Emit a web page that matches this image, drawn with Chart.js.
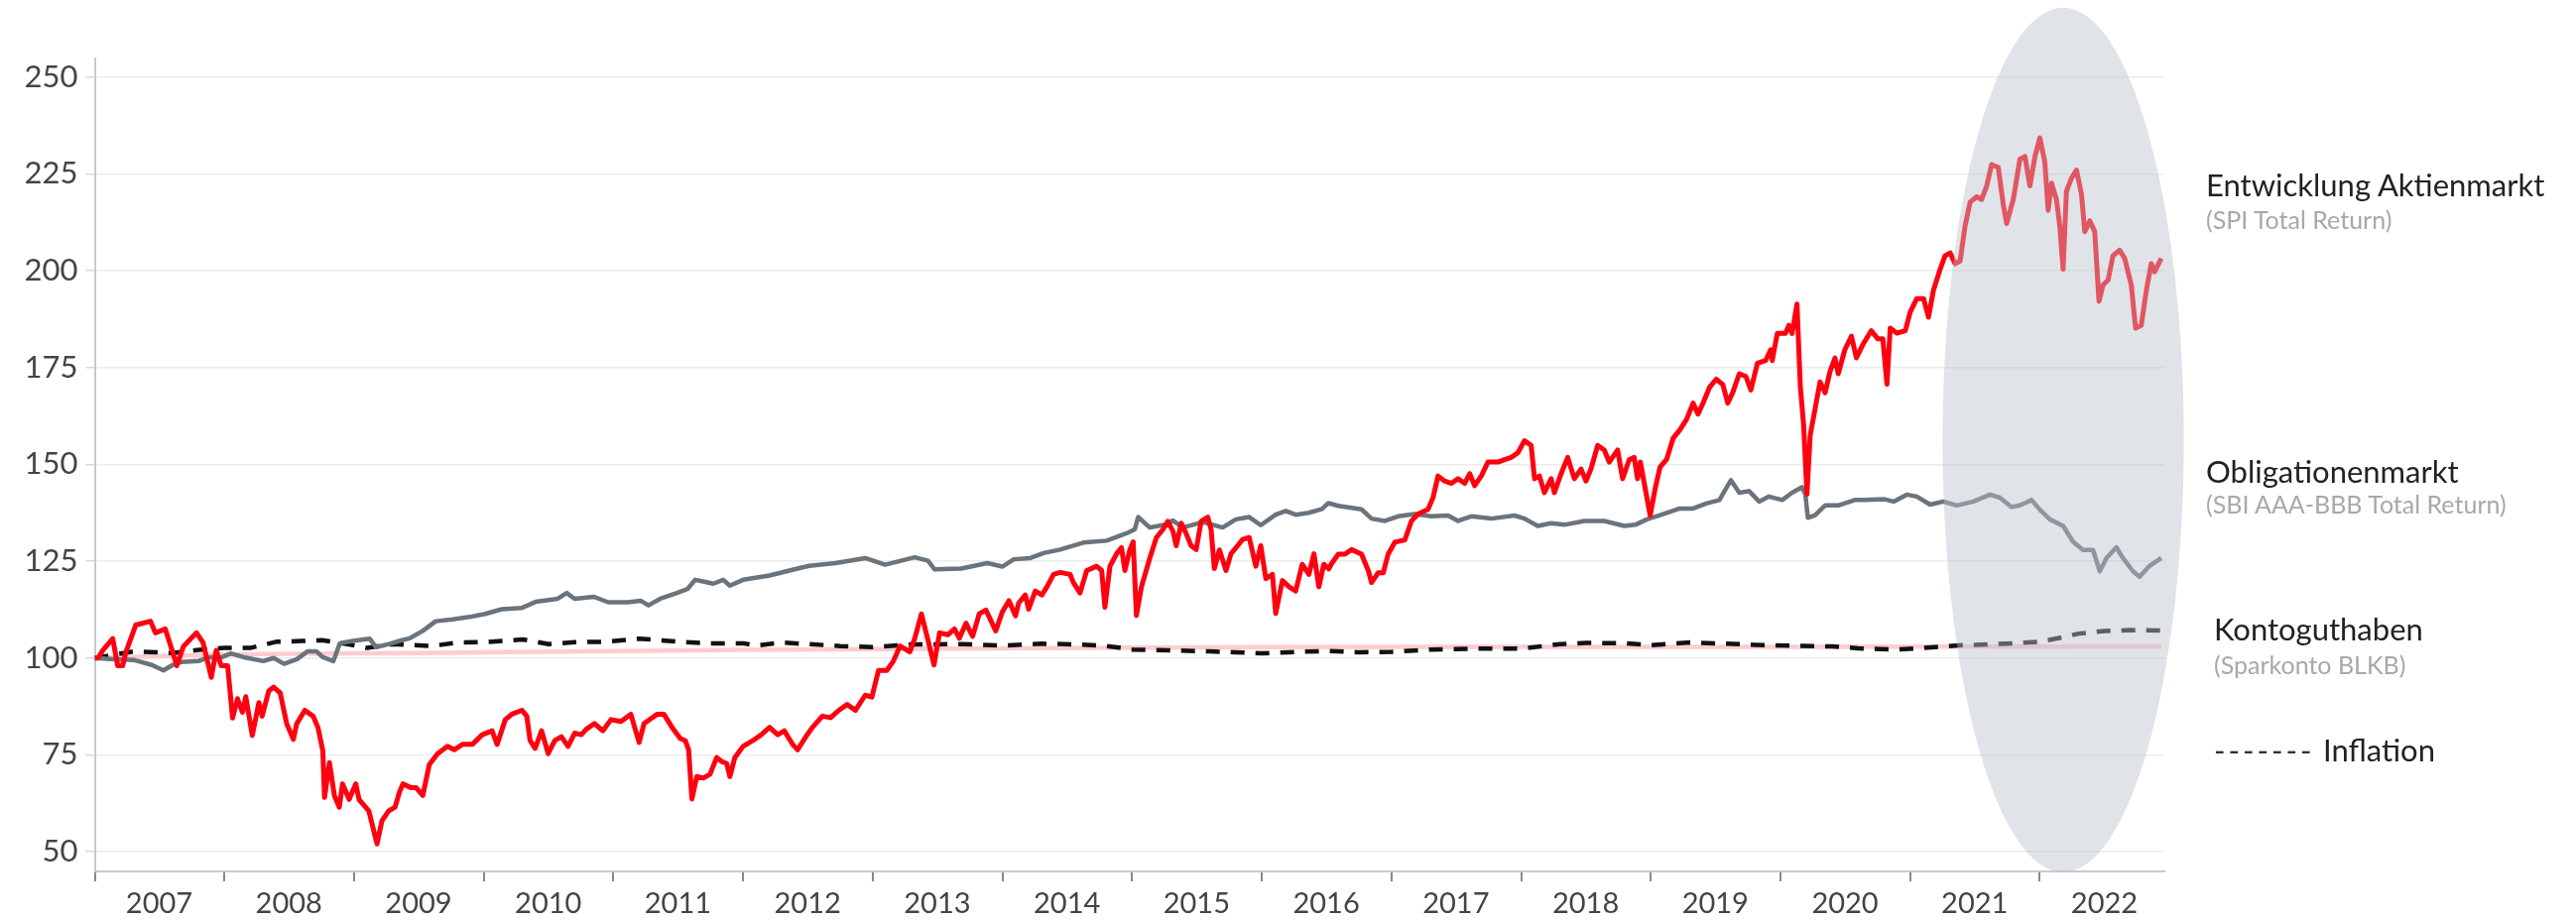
<!DOCTYPE html>
<html>
<head>
<meta charset="utf-8">
<script src="https://cdn.jsdelivr.net/npm/chart.js@4/dist/chart.umd.min.js"></script>
<style>
  body { margin: 0; background: #fff; font-family: Lato, "Open Sans", sans-serif; }
  #wrap { position: relative; width: 2597px; height: 928px; }
  .lbl { position: absolute; white-space: nowrap; transform: translateY(-50%); line-height: 1; }
  .main { font-size: 31px; color: #222; }
  .sub { font-size: 25px; color: #a8a8a8; }
</style>
</head>
<body>
<div id="wrap">
  <canvas id="myChart" width="2597" height="928"></canvas>
  <div class="lbl main" style="left:2224px;top:186px">Entwicklung Aktienmarkt</div>
  <div class="lbl sub" style="left:2224px;top:221px">(SPI Total Return)</div>
  <div class="lbl main" style="left:2224px;top:475px">Obligationenmarkt</div>
  <div class="lbl sub" style="left:2224px;top:508px">(SBI AAA-BBB Total Return)</div>
  <div class="lbl main" style="left:2232px;top:634px">Kontoguthaben</div>
  <div class="lbl sub" style="left:2232px;top:670px">(Sparkonto BLKB)</div>
  <div class="lbl main" style="left:2232px;top:756px;color:#333;letter-spacing:3px">-------</div>
  <div class="lbl main" style="left:2342px;top:756px">Inflation</div>
</div>
<script>
// x = Jahr als Dezimalzahl, Start 2007 = 100
const yearTicks = [2007, 2008, 2009, 2010, 2011, 2012, 2013, 2014, 2015, 2016, 2017, 2018, 2019, 2020, 2021, 2022];
const valueTicks = [50, 75, 100, 125, 150, 175, 200, 225, 250];

const stockYears = [
  2007.0, 2007.025, 2007.063, 2007.139, 2007.177, 2007.215, 2007.24, 2007.316, 2007.43, 2007.468,
  2007.544, 2007.582, 2007.633, 2007.684, 2007.785, 2007.835, 2007.899, 2007.937, 2007.975, 2008.025,
  2008.063, 2008.101, 2008.139, 2008.165, 2008.215, 2008.266, 2008.291, 2008.342, 2008.38, 2008.43,
  2008.481, 2008.532, 2008.557, 2008.62, 2008.684, 2008.722, 2008.759, 2008.772, 2008.81, 2008.848,
  2008.886, 2008.911, 2008.962, 2009.013, 2009.038, 2009.114, 2009.177, 2009.215, 2009.266, 2009.316,
  2009.351, 2009.377, 2009.44, 2009.479, 2009.53, 2009.58, 2009.644, 2009.72, 2009.772, 2009.835,
  2009.912, 2009.988, 2010.064, 2010.103, 2010.166, 2010.217, 2010.294, 2010.332, 2010.357, 2010.396,
  2010.446, 2010.497, 2010.548, 2010.599, 2010.65, 2010.701, 2010.752, 2010.79, 2010.854, 2010.918,
  2010.981, 2011.058, 2011.134, 2011.198, 2011.236, 2011.338, 2011.389, 2011.452, 2011.516, 2011.554,
  2011.58, 2011.605, 2011.643, 2011.694, 2011.745, 2011.796, 2011.834, 2011.873, 2011.898, 2011.936,
  2012.0, 2012.076, 2012.14, 2012.204, 2012.267, 2012.318, 2012.382, 2012.42, 2012.484, 2012.535,
  2012.611, 2012.675, 2012.738, 2012.802, 2012.866, 2012.942, 2012.993, 2013.044, 2013.108, 2013.159,
  2013.21, 2013.286, 2013.324, 2013.375, 2013.426, 2013.472, 2013.515, 2013.579, 2013.63, 2013.668,
  2013.719, 2013.77, 2013.821, 2013.872, 2013.948, 2013.999, 2014.05, 2014.101, 2014.125, 2014.176,
  2014.202, 2014.253, 2014.304, 2014.343, 2014.394, 2014.445, 2014.522, 2014.547, 2014.598, 2014.65,
  2014.726, 2014.765, 2014.79, 2014.829, 2014.88, 2014.918, 2014.944, 2014.982, 2015.008, 2015.033,
  2015.072, 2015.136, 2015.187, 2015.238, 2015.276, 2015.315, 2015.34, 2015.379, 2015.417, 2015.455,
  2015.494, 2015.532, 2015.583, 2015.609, 2015.634, 2015.673, 2015.724, 2015.762, 2015.813, 2015.852,
  2015.903, 2015.954, 2015.992, 2016.031, 2016.082, 2016.107, 2016.159, 2016.21, 2016.261, 2016.312,
  2016.363, 2016.402, 2016.44, 2016.478, 2016.517, 2016.538, 2016.59, 2016.641, 2016.692, 2016.769,
  2016.821, 2016.846, 2016.897, 2016.936, 2016.974, 2017.026, 2017.103, 2017.154, 2017.205, 2017.282,
  2017.321, 2017.359, 2017.41, 2017.462, 2017.513, 2017.564, 2017.603, 2017.641, 2017.692, 2017.744,
  2017.821, 2017.872, 2017.923, 2017.974, 2018.026, 2018.077, 2018.103, 2018.141, 2018.179, 2018.231,
  2018.256, 2018.308, 2018.359, 2018.41, 2018.462, 2018.5, 2018.538, 2018.59, 2018.641, 2018.679,
  2018.744, 2018.782, 2018.833, 2018.872, 2018.897, 2018.919, 2018.957, 2018.995, 2019.033, 2019.071,
  2019.122, 2019.173, 2019.224, 2019.275, 2019.326, 2019.364, 2019.402, 2019.453, 2019.504, 2019.555,
  2019.593, 2019.631, 2019.682, 2019.733, 2019.771, 2019.822, 2019.885, 2019.924, 2019.936, 2019.975,
  2020.038, 2020.064, 2020.089, 2020.127, 2020.153, 2020.178, 2020.204, 2020.229, 2020.267, 2020.305,
  2020.344, 2020.382, 2020.42, 2020.445, 2020.496, 2020.547, 2020.585, 2020.636, 2020.7, 2020.751,
  2020.789, 2020.821, 2020.846, 2020.897, 2020.962, 2021.0, 2021.051, 2021.103, 2021.141, 2021.179,
  2021.231, 2021.269, 2021.308, 2021.346, 2021.385, 2021.423, 2021.462, 2021.513, 2021.551, 2021.59,
  2021.628, 2021.679, 2021.718, 2021.744, 2021.795, 2021.846, 2021.885, 2021.923, 2021.962, 2022.0,
  2022.038, 2022.064, 2022.09, 2022.128, 2022.154, 2022.179, 2022.205, 2022.244, 2022.282, 2022.321,
  2022.346, 2022.385, 2022.423, 2022.456, 2022.487, 2022.526, 2022.564, 2022.615, 2022.654, 2022.705,
  2022.738, 2022.782, 2022.821, 2022.859, 2022.885, 2022.936
];
const stockValues = [
  100, 100, 102, 105, 98, 98, 101.5, 108.5, 109.5, 106.5,
  107.5, 103.5, 98, 103, 106.5, 104, 95, 102, 98, 98,
  84.5, 89.5, 86, 90, 80, 88.5, 85, 91.5, 92.5, 91,
  83, 79, 83, 86.5, 85, 82, 76, 64, 73, 64.5,
  61.5, 67.5, 63.5, 67.5, 63.5, 60.5, 52, 58, 60.5, 61.5,
  65.5, 67.5, 66.5, 66.5, 64.5, 72.5, 75.3, 77.2, 76.3, 77.7,
  77.7, 80.2, 81.2, 77.7, 84.1, 85.5, 86.5, 85, 78.7, 76.7,
  81.2, 75.3, 78.7, 79.7, 77.2, 80.6, 80.2, 81.6, 83.1, 81.2,
  84.1, 83.6, 85.5, 78.2, 83.1, 85.5, 85.5, 82.1, 79.2, 78.7,
  76.3, 63.6, 69.4, 69, 70, 74.3, 73.3, 72.8, 69.4, 74.3,
  77.2, 78.7, 80.2, 82.1, 80.2, 81.2, 77.7, 76.3, 79.7, 82.1,
  85, 84.6, 86.5, 88, 86.5, 90.4, 89.9, 96.8, 96.8, 99.2,
  103.1, 101.6, 105.1, 111.4, 104.6, 98.2, 106.5, 106, 107.5, 105.1,
  109, 105.6, 111.4, 112.4, 107, 111.9, 114.8, 110.9, 114.2, 116.3,
  112.6, 117.3, 116.3, 118.4, 121.6, 122.1, 121.6, 119.5, 116.8, 122.6,
  123.7, 122.6, 113.1, 123.7, 126.9, 128.5, 122.6, 127.9, 130, 111,
  118.4, 125.8, 131.1, 133.2, 135.3, 132.7, 129, 134.8, 132.1, 129,
  128, 135.3, 136.4, 133.2, 123.1, 127.9, 122.6, 126.9, 129, 130.6,
  131.1, 123.7, 129, 120.5, 121.6, 111.5, 120, 118.4, 117.3, 124.2,
  121.6, 126.9, 118.4, 124.2, 123, 124.4, 126.8, 126.8, 128, 126.8,
  122.6, 119.5, 122, 122, 126.8, 129.9, 130.5, 135.4, 137.2, 138.4,
  141.5, 147, 145.7, 145.1, 146.3, 145.1, 147.6, 144.5, 147, 150.6,
  150.6, 151.2, 151.8, 153, 156.1, 154.9, 146.3, 147, 142.7, 146.3,
  142.7, 147.6, 151.8, 146.3, 148.8, 145.7, 148.8, 154.9, 153.7, 150.6,
  153.7, 146.3, 151.2, 151.8, 146.3, 150.6, 143.7, 136.8, 143.7, 149.3,
  151.3, 156.8, 158.9, 161.6, 165.8, 163, 165.8, 169.9, 172, 170.6,
  165.8, 168.5, 173.4, 172.7, 169.2, 176.1, 176.8, 179.6, 176.8, 183.8,
  183.8, 185.9, 183.8, 191.4, 170, 160.3, 142.3, 157.5, 164.4, 171.3,
  168.5, 174, 177.5, 173.4, 179.6, 183.1, 177.5, 181, 184.5, 182.4,
  182.4, 170.7, 185.2, 183.9, 184.5, 189.3, 192.8, 192.8, 188, 194.9,
  200.4, 203.9, 204.6, 201.8, 202.5, 211.5, 217.7, 219.1, 218.4, 221.9,
  227.4, 226.7, 217, 212.2, 218.4, 228.8, 229.5, 221.9, 229.5, 234.3,
  228.1, 215.6, 222.6, 218.4, 211.5, 200.4, 220.5, 223.9, 226, 219.8,
  210.1, 212.9, 210.1, 192.1, 196.3, 197.6, 203.9, 205.3, 203.2, 196.3,
  185.2, 185.9, 194.9, 201.8, 199.7, 203.2
];

const bondYears = [
  2007.0, 2007.15, 2007.3, 2007.44, 2007.53, 2007.6, 2007.67, 2007.8, 2007.88, 2007.98,
  2008.05, 2008.15, 2008.3, 2008.38, 2008.46, 2008.56, 2008.64, 2008.71, 2008.76, 2008.84,
  2008.89, 2008.99, 2009.12, 2009.17, 2009.27, 2009.37, 2009.43, 2009.53, 2009.63, 2009.76,
  2009.89, 2010.01, 2010.14, 2010.29, 2010.4, 2010.57, 2010.64, 2010.7, 2010.85, 2010.96,
  2011.11, 2011.21, 2011.27, 2011.36, 2011.49, 2011.57, 2011.63, 2011.7, 2011.77, 2011.847,
  2011.898, 2012.0, 2012.204, 2012.357, 2012.509, 2012.713, 2012.942, 2013.095, 2013.324, 2013.426,
  2013.477, 2013.681, 2013.884, 2013.999, 2014.088, 2014.215, 2014.317, 2014.445, 2014.624, 2014.803,
  2014.957, 2015.02, 2015.046, 2015.136, 2015.263, 2015.315, 2015.391, 2015.545, 2015.698, 2015.8,
  2015.903, 2015.992, 2016.107, 2016.184, 2016.261, 2016.363, 2016.465, 2016.513, 2016.59, 2016.692,
  2016.769, 2016.846, 2016.949, 2017.051, 2017.179, 2017.308, 2017.436, 2017.513, 2017.615, 2017.769,
  2017.949, 2018.026, 2018.128, 2018.231, 2018.333, 2018.487, 2018.641, 2018.795, 2018.88, 2018.97,
  2019.071, 2019.224, 2019.326, 2019.427, 2019.529, 2019.58, 2019.618, 2019.682, 2019.758, 2019.835,
  2019.911, 2020.013, 2020.089, 2020.165, 2020.191, 2020.211, 2020.267, 2020.344, 2020.445, 2020.573,
  2020.649, 2020.802, 2020.872, 2020.974, 2021.051, 2021.154, 2021.256, 2021.359, 2021.487, 2021.615,
  2021.692, 2021.782, 2021.846, 2021.936, 2022.0, 2022.077, 2022.179, 2022.256, 2022.333, 2022.41,
  2022.462, 2022.513, 2022.59, 2022.641, 2022.718, 2022.769, 2022.846, 2022.936
];
const bondValues = [
  100, 99.7, 99.5, 98.2, 96.8, 98.2, 99, 99.2, 100.2, 100.2,
  101.2, 100.2, 99.2, 100, 98.5, 99.7, 101.7, 101.7, 100.2, 99.2,
  103.8, 104.4, 105, 102.8, 103.6, 104.6, 105.1, 107, 109.5, 110,
  110.6, 111.4, 112.6, 112.9, 114.5, 115.3, 116.8, 115.3, 115.8, 114.4,
  114.4, 114.8, 113.6, 115.3, 116.8, 117.8, 120.2, 119.7, 119.2, 120.2,
  118.7, 120.2, 121.3, 122.6, 123.8, 124.5, 125.8, 124.1, 126, 125.1,
  122.9, 123.1, 124.5, 123.6, 125.5, 125.8, 127.1, 128, 129.8, 130.3,
  132.2, 133.2, 136.4, 133.7, 134.5, 135.5, 133.7, 135.1, 133.7, 135.8,
  136.4, 134.3, 137, 138, 137, 137.5, 138.5, 140, 139.3, 138.8,
  138.4, 136, 135.4, 136.6, 137.2, 136.6, 136.8, 135.4, 136.6, 136,
  136.8, 136, 134.1, 134.8, 134.4, 135.4, 135.4, 134.1, 134.4, 135.8,
  136.9, 138.6, 138.6, 139.9, 140.8, 143.8, 145.9, 142.7, 143.1, 140.4,
  141.7, 140.8, 142.7, 144.1, 142.4, 136.2, 136.9, 139.4, 139.4, 140.8,
  140.8, 141, 140.4, 142.2, 141.7, 139.6, 140.4, 139.4, 140.4, 142.2,
  141.4, 139, 139.4, 140.8, 138.3, 135.8, 134.1, 130, 127.9, 127.9,
  122.4, 125.8, 128.6, 125.8, 122.4, 121, 123.8, 125.8
];

const inflationYears = [
  2007.0, 2007.3, 2007.6, 2007.8, 2008.0, 2008.2, 2008.4, 2008.6, 2008.75, 2008.95,
  2009.1, 2009.3, 2009.6, 2009.8, 2010.0, 2010.3, 2010.5, 2010.7, 2010.95, 2011.2,
  2011.5, 2011.75, 2012.0, 2012.1, 2012.3, 2012.5, 2012.75, 2013.0, 2013.3, 2013.7,
  2014.0, 2014.3, 2014.6, 2014.8, 2015.0, 2015.3, 2015.6, 2015.8, 2016.0, 2016.2,
  2016.5, 2016.75, 2017.0, 2017.3, 2017.6, 2018.0, 2018.3, 2018.5, 2018.8, 2019.0,
  2019.3, 2019.5, 2019.8, 2020.1, 2020.4, 2020.6, 2020.9, 2021.1, 2021.4, 2021.8,
  2022.0, 2022.15, 2022.3, 2022.5, 2022.7, 2022.936
];
const inflationValues = [
  100, 101.7, 101.3, 102.1, 102.6, 102.6, 104.2, 104.4, 104.6, 103.6,
  102.6, 103.6, 103.1, 104, 104.1, 104.8, 103.6, 104.1, 104.2, 105,
  104.2, 103.8, 103.8, 103.2, 104, 103.6, 103.1, 102.8, 103.5, 103.6,
  103.2, 103.7, 103.5, 103.1, 102.2, 102, 101.7, 101.5, 101.2, 101.5,
  101.8, 101.5, 101.6, 102.2, 102.4, 102.4, 103.6, 103.9, 103.8, 103.3,
  104, 103.8, 103.4, 103.2, 103, 102.5, 102.2, 102.6, 103.3, 103.8,
  104.2, 105.2, 106.3, 107, 107.2, 107.1
];

const kontoYears = [2007.0, 2007.5, 2008.0, 2008.5, 2009.0, 2009.5, 2010.0, 2011.0, 2012.0, 2013.0,
  2014.0, 2015.0, 2016.0, 2017.0, 2018.0, 2019.0, 2020.0, 2021.0, 2022.0, 2022.936];
const kontoValues = [100, 100.5, 100.9, 101.1, 101.2, 101.3, 101.5, 101.8, 102.1, 102.3,
  102.5, 102.7, 102.8, 102.85, 102.9, 102.9, 102.9, 102.95, 102.95, 103];

// grau hinterlegte Ellipse (Jahr / Indexwert)
const highlight = { year: 2022.18, halfYears: 0.93, value: 156.3, halfValue: 111.6 };

function toPoints(xs, ys) {
  return xs.map((x, i) => ({ x: x, y: ys[i] }));
}

const ellipsePlugin = {
  id: "ellipse",
  afterDatasetsDraw(chart) {
    const ctx = chart.ctx;
    const xs = chart.scales.x;
    const ys = chart.scales.y;
    const cx = xs.getPixelForValue(highlight.year);
    const rx = xs.getPixelForValue(highlight.year + highlight.halfYears) - cx;
    const cy = ys.getPixelForValue(highlight.value);
    const ry = ys.getPixelForValue(highlight.value - highlight.halfValue) - cy;
    ctx.save();
    ctx.fillStyle = "rgba(186,192,202,0.45)";
    ctx.beginPath();
    ctx.ellipse(cx, cy, rx, ry, 0, 0, Math.PI * 2);
    ctx.fill();
    ctx.restore();
  },
};

let myChart = document.getElementById("myChart").getContext("2d");
let myGraph = new Chart(myChart, {
  type: "line",
  data: {
    datasets: [
      {
        label: "Entwicklung Aktienmarkt",
        data: toPoints(stockYears, stockValues),
        borderColor: "#ff0010",
        borderWidth: 5,
      },
      {
        label: "Obligationenmarkt",
        data: toPoints(bondYears, bondValues),
        borderColor: "#6b747c",
        borderWidth: 4.5,
      },
      {
        label: "Inflation",
        data: toPoints(inflationYears, inflationValues),
        borderColor: "#111",
        borderWidth: 4.5,
        borderDash: [14, 11],
      },
      {
        label: "Kontoguthaben",
        data: toPoints(kontoYears, kontoValues),
        borderColor: "#ffcccf",
        borderWidth: 4.5,
      },
    ],
  },
  options: {
    responsive: false,
    animation: false,
    devicePixelRatio: 1,
    elements: { point: { radius: 0 }, line: { tension: 0, borderJoinStyle: "round" } },
    layout: { padding: { top: 59, right: 415, left: 0, bottom: 0 } },
    plugins: { legend: { display: false }, tooltip: { enabled: false } },
    scales: {
      x: {
        type: "linear",
        min: 2007,
        max: 2022.96,
        afterBuildTicks: (scale) => {
          scale.ticks = yearTicks.map((v) => ({ value: v }));
        },
        afterFit: (scale) => {
          scale.height = 49;
        },
        ticks: {
          autoSkip: false,
          maxRotation: 0,
          labelOffset: 65,
          padding: 5,
          color: "#444",
          font: { family: "Lato", size: 29 },
          callback: (v) => String(v),
        },
        grid: { drawOnChartArea: false, drawTicks: true, tickLength: 10, color: "#888", lineWidth: 2 },
        border: { display: true, color: "#cacaca", width: 2 },
      },
      y: {
        min: 44.9,
        max: 254.8,
        afterBuildTicks: (scale) => {
          scale.ticks = valueTicks.map((v) => ({ value: v }));
        },
        afterFit: (scale) => {
          scale.width = 95.5;
        },
        ticks: {
          padding: 8,
          color: "#444",
          font: { family: "Lato", size: 31 },
        },
        grid: { color: "#ececec", lineWidth: 1.5, tickLength: 9, tickColor: "#d8d8d8" },
        border: { display: true, color: "#cacaca", width: 2 },
      },
    },
  },
  plugins: [ellipsePlugin],
});
</script>
</body>
</html>
